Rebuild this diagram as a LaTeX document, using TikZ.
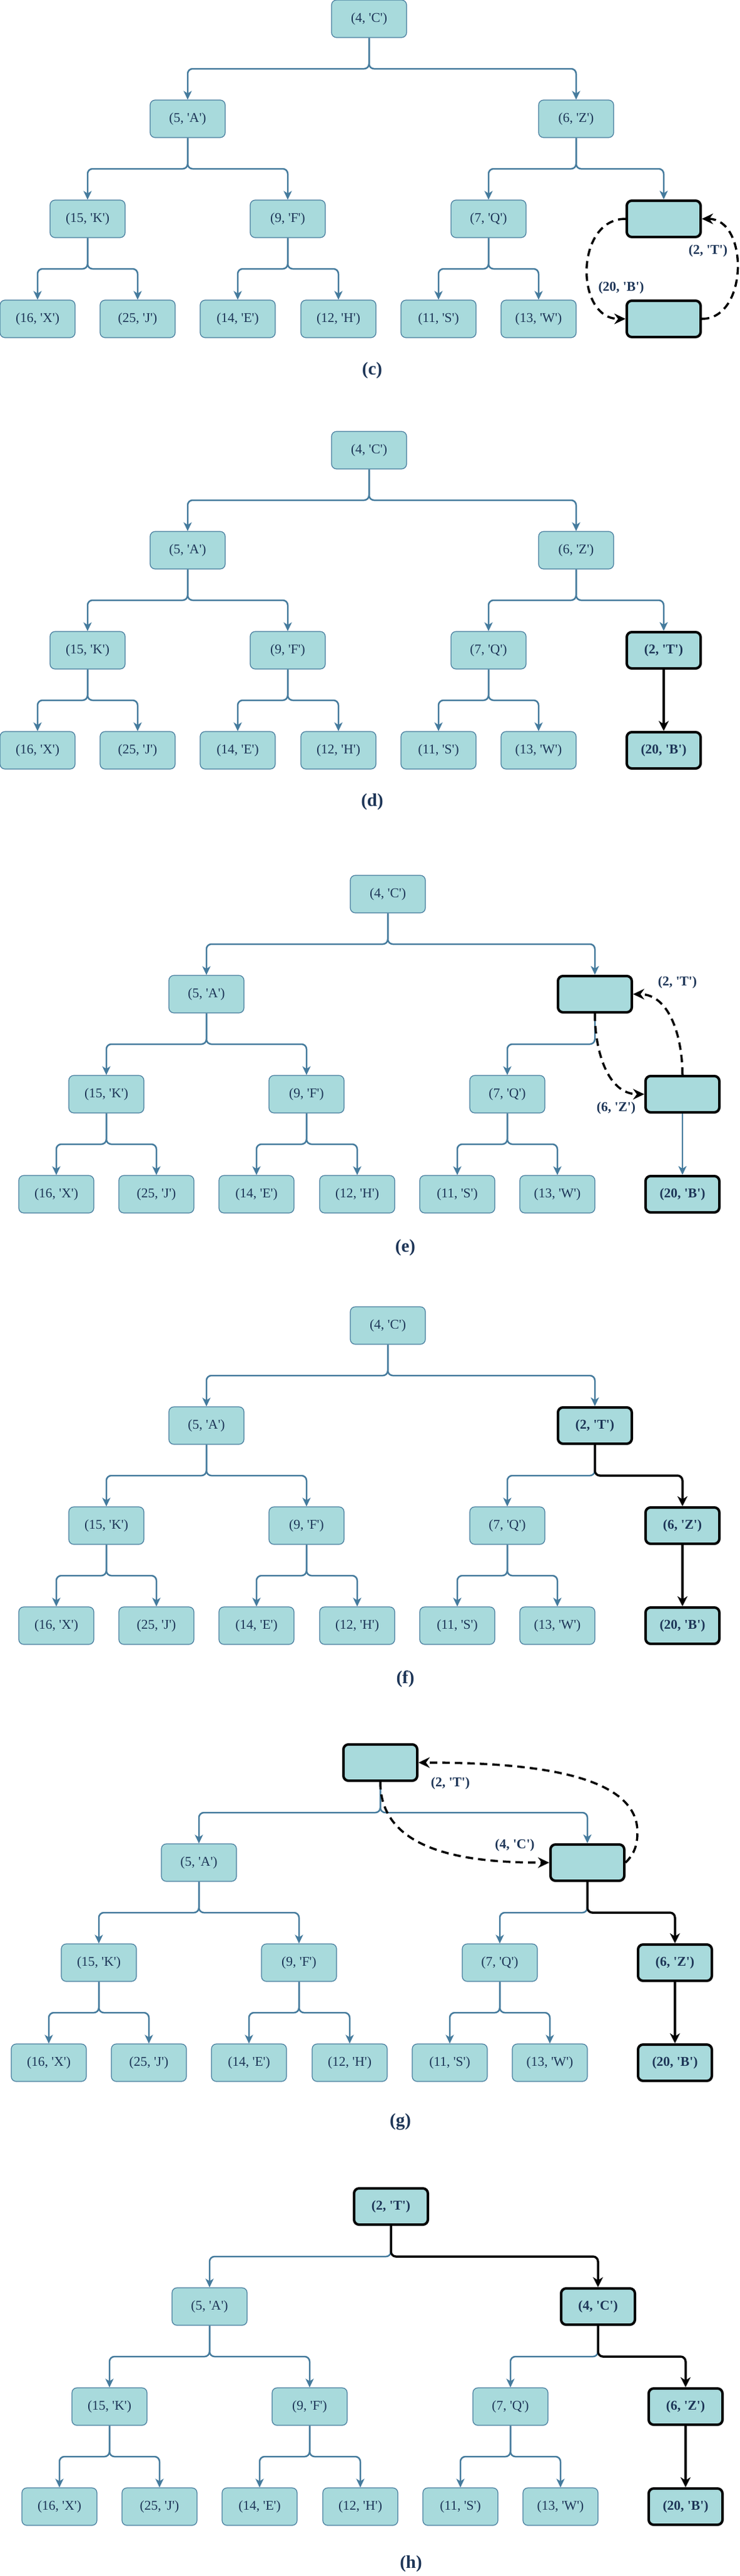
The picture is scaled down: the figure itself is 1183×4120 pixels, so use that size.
\documentclass[tikz,border=0pt]{standalone}
\usepackage{fontspec}
\newfontfamily\nf{Liberation Serif}
\usetikzlibrary{arrows.meta}
\definecolor{fillc}{HTML}{A8DADC}
\definecolor{edgec}{HTML}{457B9D}
\definecolor{txtc}{HTML}{1D3557}
\tikzset{
  nodebox/.style={draw=edgec, line width=1.2pt, fill=fillc, rounded corners=8pt,
    minimum width=120pt, minimum height=60pt, inner sep=0pt, text=txtc,
    font=\nf\fontsize{21.5}{24}\selectfont},
  boldbox/.style={nodebox, draw=black, line width=4pt, minimum width=118pt, minimum height=58pt,
    font=\nf\bfseries\fontsize{21.5}{24}\selectfont},
  blueedge/.style={draw=edgec, line width=2.5pt, rounded corners=8pt,
    -{Stealth[length=14pt,width=13pt,inset=4pt]}},
  blackedge/.style={draw=black, line width=3.5pt, rounded corners=8pt,
    -{Stealth[length=16pt,width=16pt,inset=5pt]}},
  dashedge/.style={draw=black, line width=3.5pt, dash pattern=on 12pt off 8pt,
    -{Stealth[length=18pt,width=17pt,inset=6pt]}},
  edgelabel/.style={text=txtc, inner sep=0pt, font=\nf\bfseries\fontsize{21.5}{24}\selectfont},
  captiontext/.style={text=txtc, inner sep=0pt, font=\nf\bfseries\fontsize{29}{32}\selectfont}
}
\newcommand\mybranch[3]{\draw[#1] (#2.south) -- ([yshift=-80pt]#2.center) -| (#3.north);}
\newcommand\mysubtree[1]{%
  \node[nodebox] (#1A) at (300,-190) {(5, 'A')};
  \node[nodebox] (#1K) at (140,-350) {(15, 'K')};
  \node[nodebox] (#1F) at (460,-350) {(9, 'F')};
  \node[nodebox] (#1X) at (60,-510) {(16, 'X')};
  \node[nodebox] (#1J) at (220,-510) {(25, 'J')};
  \node[nodebox] (#1E) at (380,-510) {(14, 'E')};
  \node[nodebox] (#1H) at (541,-510) {(12, 'H')};
  \node[nodebox] (#1Q) at (781,-350) {(7, 'Q')};
  \node[nodebox] (#1S) at (701,-510) {(11, 'S')};
  \node[nodebox] (#1W) at (861,-510) {(13, 'W')};
  \mybranch{blueedge}{#1A}{#1K}
  \mybranch{blueedge}{#1A}{#1F}
  \mybranch{blueedge}{#1K}{#1X}
  \mybranch{blueedge}{#1K}{#1J}
  \mybranch{blueedge}{#1F}{#1E}
  \mybranch{blueedge}{#1F}{#1H}
  \mybranch{blueedge}{#1Q}{#1S}
  \mybranch{blueedge}{#1Q}{#1W}
}
\begin{document}
\begin{tikzpicture}[x=1pt,y=1pt]
\useasboundingbox (0,0) rectangle (1183,-4120);
% (c)
\begin{scope}[shift={(0,0)}]
  \mysubtree{c}
  \node[nodebox] (cR) at (590,-30) {(4, 'C')};
  \node[nodebox] (cZ) at (921,-190) {(6, 'Z')};
  \node[boldbox] (cT) at (1061,-350) {};
  \node[boldbox] (cB) at (1061,-510) {};
  \mybranch{blueedge}{cR}{cA}
  \mybranch{blueedge}{cR}{cZ}
  \mybranch{blueedge}{cZ}{cQ}
  \mybranch{blueedge}{cZ}{cT}
  \draw[dashedge] (cT.west) to[out=180,in=180,looseness=1.3] (cB.west);
  \draw[dashedge] (cB.east) to[out=0,in=0,looseness=1.2] (cT.east);
  \node[edgelabel] (cl1) at (1132,-401) {(2, 'T')};
  \node[edgelabel] (cl2) at (993,-460) {(20, 'B')};
  \node[captiontext] (ccap) at (595,-593) {(c)};
\end{scope}
% (d)
\begin{scope}[shift={(0,-690)}]
  \mysubtree{d}
  \node[nodebox] (dR) at (590,-30) {(4, 'C')};
  \node[nodebox] (dZ) at (921,-190) {(6, 'Z')};
  \node[boldbox] (dT) at (1061,-350) {(2, 'T')};
  \node[boldbox] (dB) at (1061,-510) {(20, 'B')};
  \mybranch{blueedge}{dR}{dA}
  \mybranch{blueedge}{dR}{dZ}
  \mybranch{blueedge}{dZ}{dQ}
  \mybranch{blueedge}{dZ}{dT}
  \draw[blackedge] (dT) -- (dB);
  \node[captiontext] (dcap) at (595,-593) {(d)};
\end{scope}
% (e)
\begin{scope}[shift={(30,-1400)}]
  \mysubtree{e}
  \node[nodebox] (eR) at (590,-30) {(4, 'C')};
  \node[boldbox] (eT) at (921,-190) {};
  \node[boldbox] (eZ) at (1061,-350) {};
  \node[boldbox] (eB) at (1061,-510) {(20, 'B')};
  \mybranch{blueedge}{eR}{eA}
  \mybranch{blueedge}{eR}{eT}
  \mybranch{blueedge}{eT}{eQ}
  \draw[blueedge] (eZ) -- (eB);
  \draw[dashedge] (eT.south) to[out=-90,in=180] (eZ.west);
  \draw[dashedge] (eZ.north) to[out=90,in=0] (eT.east);
  \node[edgelabel] (el1) at (1053,-171) {(2, 'T')};
  \node[edgelabel] (el2) at (955,-372) {(6, 'Z')};
  \node[captiontext] (ecap) at (618,-595) {(e)};
\end{scope}
% (f)
\begin{scope}[shift={(30,-2090)}]
  \mysubtree{f}
  \node[nodebox] (fR) at (590,-30) {(4, 'C')};
  \node[boldbox] (fT) at (921,-190) {(2, 'T')};
  \node[boldbox] (fZ) at (1061,-350) {(6, 'Z')};
  \node[boldbox] (fB) at (1061,-510) {(20, 'B')};
  \mybranch{blueedge}{fR}{fA}
  \mybranch{blueedge}{fR}{fT}
  \mybranch{blueedge}{fT}{fQ}
  \mybranch{blackedge}{fT}{fZ}
  \draw[blackedge] (fZ) -- (fB);
  \node[captiontext] (fcap) at (618,-595) {(f)};
\end{scope}
% (g)
\begin{scope}[shift={(18,-2789)}]
  \mysubtree{g}
  \node[boldbox] (gT) at (590,-30) {};
  \node[boldbox] (gC) at (921,-190) {};
  \node[boldbox] (gZ) at (1061,-350) {(6, 'Z')};
  \node[boldbox] (gB) at (1061,-510) {(20, 'B')};
  \mybranch{blueedge}{gT}{gA}
  \mybranch{blueedge}{gT}{gC}
  \mybranch{blueedge}{gC}{gQ}
  \mybranch{blackedge}{gC}{gZ}
  \draw[blackedge] (gZ) -- (gB);
  \coordinate (gw) at (1001,-141);
  \draw[dashedge] (gT.south) to[out=-90,in=180] (gC.west);
  \draw[dashedge] (gC.east) to[out=45,in=-90] (gw) .. controls (1001,-41) and (801,-30) .. (gT.east);
  \node[edgelabel] (gl1) at (702,-63) {(2, 'T')};
  \node[edgelabel] (gl2) at (805,-162) {(4, 'C')};
  \node[captiontext] (gcap) at (622,-605) {(g)};
\end{scope}
% (h)
\begin{scope}[shift={(35,-3499)}]
  \mysubtree{h}
  \node[boldbox] (hT) at (590,-30) {(2, 'T')};
  \node[boldbox] (hC) at (921,-190) {(4, 'C')};
  \node[boldbox] (hZ) at (1061,-350) {(6, 'Z')};
  \node[boldbox] (hB) at (1061,-510) {(20, 'B')};
  \mybranch{blueedge}{hT}{hA}
  \mybranch{blueedge}{hC}{hQ}
  \mybranch{blackedge}{hT}{hC}
  \mybranch{blackedge}{hC}{hZ}
  \draw[blackedge] (hZ) -- (hB);
  \node[captiontext] (hcap) at (622,-601) {(h)};
\end{scope}
\end{tikzpicture}
\end{document}
